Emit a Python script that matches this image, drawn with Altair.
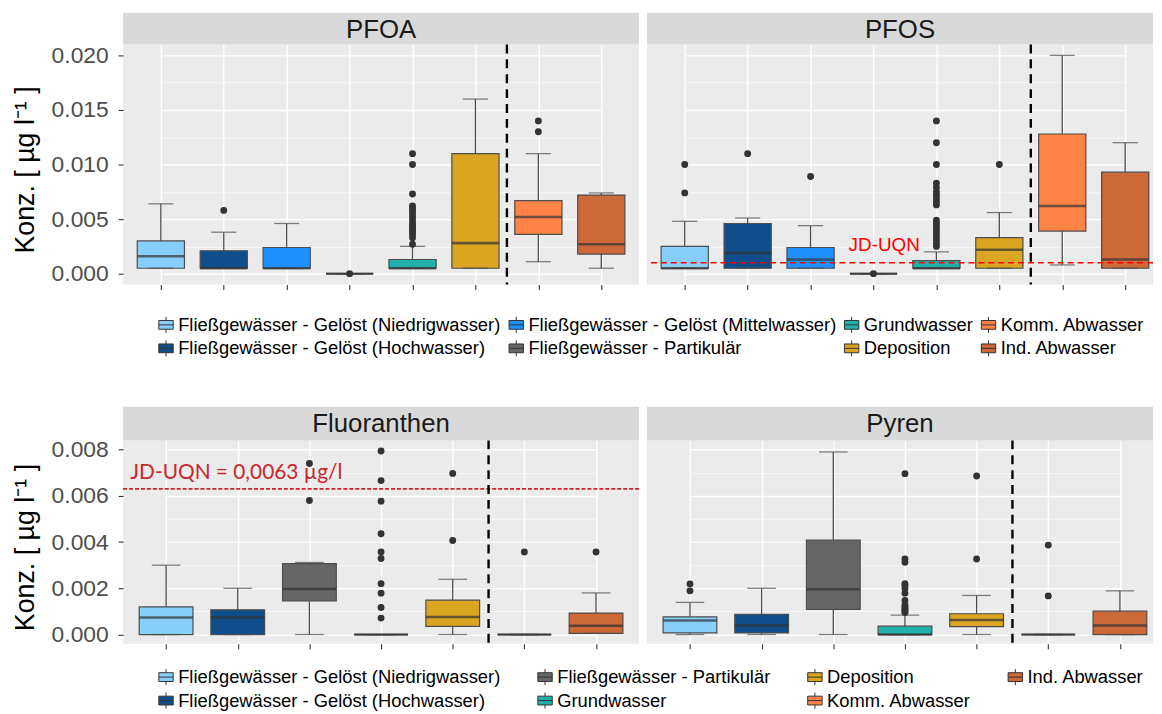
import altair as alt
import pandas as pd

# ---------------- categories ----------------
L_NIED = "Fließgewässer - Gelöst (Niedrigwasser)"
L_HOCH = "Fließgewässer - Gelöst (Hochwasser)"
L_MITT = "Fließgewässer - Gelöst (Mittelwasser)"
L_PART = "Fließgewässer - Partikulär"
L_GRUND = "Grundwasser"
L_DEP = "Deposition"
L_KOMM = "Komm. Abwasser"
L_IND = "Ind. Abwasser"

TOP_CATS = [L_NIED, L_HOCH, L_MITT, L_PART, L_GRUND, L_DEP, L_KOMM, L_IND]
BOT_CATS = [L_NIED, L_HOCH, L_PART, L_GRUND, L_DEP, L_KOMM, L_IND]

COLORS = {
    L_NIED: "#87CEFA", L_HOCH: "#104E8B", L_MITT: "#1E90FF", L_PART: "#666666",
    L_GRUND: "#20B2AA", L_DEP: "#DAA520", L_KOMM: "#FF8247", L_IND: "#CD6839",
}

# legend order as it reads row by row
TOP_LEGEND = [L_NIED, L_MITT, L_GRUND, L_KOMM, L_HOCH, L_PART, L_DEP, L_IND]
BOT_LEGEND = [L_NIED, L_PART, L_DEP, L_IND, L_HOCH, L_GRUND, L_KOMM]

# ---------------- PFOA ----------------
PFOA_LOWER = [0.0005, 0.0005, 0.0005, 0.0, 0.0005, 0.0005, 0.0011, 0.0005]
PFOA_Q1 = [0.0005, 0.0005, 0.0005, 0.0, 0.0005, 0.0005, 0.0036, 0.0018]
PFOA_MED = [0.0016, 0.0005, 0.0005, 0.0, 0.0005, 0.0028, 0.0052, 0.0027]
PFOA_Q3 = [0.0030, 0.0021, 0.0024, 0.0, 0.0013, 0.0110, 0.0067, 0.0072]
PFOA_UPPER = [0.0064, 0.0038, 0.0046, 0.0, 0.0025, 0.0160, 0.0110, 0.0074]
PFOA_OUT = {
    L_HOCH: [0.0058],
    L_PART: [0.0],
    L_GRUND: [0.0027, 0.0033, 0.0036, 0.0038, 0.0040, 0.0042, 0.0044, 0.0046,
              0.0049, 0.0052, 0.0055, 0.0058, 0.0060, 0.0062, 0.0073, 0.0100, 0.0110],
    L_KOMM: [0.0130, 0.0140],
}

# ---------------- PFOS ----------------
PFOS_LOWER = [0.0005, 0.0005, 0.0005, 0.0, 0.0005, 0.0005, 0.0008, 0.0005]
PFOS_Q1 = [0.0005, 0.0005, 0.0005, 0.0, 0.0005, 0.0005, 0.0039, 0.0005]
PFOS_MED = [0.0005, 0.0019, 0.0013, 0.0, 0.0005, 0.0022, 0.0062, 0.0013]
PFOS_Q3 = [0.0025, 0.0046, 0.0024, 0.0, 0.0012, 0.0033, 0.0128, 0.0093]
PFOS_UPPER = [0.0048, 0.0051, 0.0044, 0.0, 0.0020, 0.0056, 0.0200, 0.0120]
PFOS_OUT = {
    L_NIED: [0.0074, 0.0100],
    L_HOCH: [0.0110],
    L_MITT: [0.0089],
    L_PART: [0.0],
    L_GRUND: [0.0025, 0.0028, 0.0031, 0.0034, 0.0037, 0.0040, 0.0043, 0.0046, 0.0049,
              0.0063, 0.0066, 0.0069, 0.0072, 0.0075, 0.0079, 0.0083, 0.0100, 0.0120, 0.0140],
    L_DEP: [0.0100],
}
PFOS_JD = 0.001

# ---------------- Fluoranthen ----------------
FLU_LOWER = [0.0, 0.0, 0.0, 0.0, 0.0, 0.0, 0.00005]
FLU_Q1 = [0.0, 0.0, 0.00145, 0.0, 0.00035, 0.0, 0.00005]
FLU_MED = [0.00074, 0.00074, 0.00197, 0.0, 0.00076, 0.0, 0.00038]
FLU_Q3 = [0.0012, 0.00107, 0.00307, 0.0, 0.00149, 0.0, 0.00093]
FLU_UPPER = [0.0030, 0.0020, 0.00312, 0.0, 0.00239, 0.0, 0.0018]
FLU_OUT = {
    L_PART: [0.0058, 0.0074],
    L_GRUND: [0.00071, 0.00117, 0.00179, 0.0022, 0.00329, 0.00357, 0.00436,
              0.00577, 0.00666, 0.00794],
    L_DEP: [0.00407, 0.00697],
    L_KOMM: [0.00357],
    L_IND: [0.00357],
}
FLU_JD = 0.0063

# ---------------- Pyren ----------------
PYR_LOWER = [0.0, 0.0, 0.0, 0.0, 0.0, 0.0, 0.0]
PYR_Q1 = [0.00007, 0.00007, 0.00109, 0.0, 0.00034, 0.0, 0.0]
PYR_MED = [0.00061, 0.00039, 0.00196, 0.0, 0.00063, 0.0, 0.00039]
PYR_Q3 = [0.00076, 0.00087, 0.00409, 0.00036, 0.0009, 0.0, 0.00101]
PYR_UPPER = [0.00139, 0.0020, 0.0079, 0.00084, 0.00169, 0.0, 0.00189]
PYR_OUT = {
    L_NIED: [0.00189, 0.00219],
    L_GRUND: [0.00095, 0.00100, 0.00106, 0.00112, 0.00120, 0.00128, 0.00147, 0.00179,
              0.00199, 0.00213, 0.00220, 0.00313, 0.00327, 0.00696],
    L_DEP: [0.00327, 0.00686],
    L_KOMM: [0.00167, 0.00387],
}

# ---------------- axis ticks ----------------
TOP_TICKS = [0.0, 0.0025, 0.005, 0.0075, 0.01, 0.0125, 0.015, 0.0175, 0.02]
TOP_DOMAIN = [-0.001, 0.021]
TOP_MAJOR = "round(datum.value*20000) % 100 == 0"
BOT_TICKS = [0.0, 0.001, 0.002, 0.003, 0.004, 0.005, 0.006, 0.007, 0.008]
BOT_DOMAIN = [-0.0004, 0.0084]
BOT_MAJOR = "round(datum.value*1000) % 2 == 0"

Y_TITLE = "Konz. [ µg l⁻¹ ]"
FONT = "Liberation Sans"
BOX_SYMBOL = "M-0.9,-0.55H0.9V0.55H-0.9Z M0,-1V-0.55 M0,0.55V1 M-0.9,0H0.9"

PANEL_W_REF = 520


def panel(name, cats, lower, q1, med, q3, upper, outliers, width, height,
          ydomain, yticks, major, legend, legend_pos, col_pad, show_y, strip_h,
          thr=None, thr_label=None, thr_cat=None, thr_style=None):
    n = len(cats)
    step = PANEL_W_REF / (n + 0.2)
    box_w = 0.75 * step
    cap_w = 0.4 * step

    stats = pd.DataFrame({"cat": cats, "lower": lower, "q1": q1, "median": med,
                          "q3": q3, "upper": upper})
    pts = pd.DataFrame([(c, v) for c, vs in outliers.items() for v in vs],
                       columns=["cat", "value"])

    xenc = alt.X("cat:N", title=None,
                 scale=alt.Scale(type="point", domain=cats, padding=0,
                                 range=[0.6 * step, (n - 0.4) * step]),
                 axis=alt.Axis(labels=False, domain=False, ticks=True, tickSize=5,
                               tickColor="#333333", tickWidth=1.1, grid=True,
                               gridColor="white", gridWidth=1.4))
    yscale = alt.Scale(domain=ydomain, nice=False, zero=False)
    grid_w = {"condition": {"test": major, "value": 1.4}, "value": 0.7}
    if show_y:
        yaxis = alt.Axis(values=yticks,
                         labelExpr=f"({major}) ? format(datum.value, '.3f') : ''",
                         grid=True, gridColor="white", gridWidth=grid_w,
                         tickOpacity={"condition": {"test": major, "value": 1}, "value": 0},
                         tickColor="#333333", tickSize=5, tickWidth=1.1,
                         labelFontSize=23, labelColor="#4D4D4D", labelPadding=10,
                         labelFont=FONT, domain=False,
                         titleFontSize=27, titleColor="black", titleFontWeight="normal",
                         titleFont=FONT, titlePadding=12, titleY=height / 2 + 5)
        ytitle = Y_TITLE
    else:
        yaxis = alt.Axis(values=yticks, labels=False, ticks=False, domain=False,
                         grid=True, gridColor="white", gridWidth=grid_w)
        ytitle = None

    def Y(field):
        return alt.Y(f"{field}:Q", scale=yscale, axis=yaxis, title=ytitle)

    strip_df = pd.DataFrame({"panel": [name]})
    strip = alt.Chart(strip_df).mark_rect(fill="#D9D9D9").encode(
        x=alt.value(0), x2=alt.value(width),
        y=alt.value(-strip_h), y2=alt.value(0))
    strip_txt = alt.Chart(strip_df).mark_text(
        fontSize=26, font=FONT, color="#1A1A1A", baseline="middle").encode(
        x=alt.value(width / 2), y=alt.value(-strip_h / 2 + 1), text="panel:N")

    whisk = alt.Chart(stats).mark_rule(color="#4D4D4D", strokeWidth=1.3).encode(
        x=xenc, y=Y("lower"), y2="upper:Q")
    box = alt.Chart(stats).mark_bar(size=box_w, stroke="#4D4D4D", strokeWidth=1.2,
                                    opacity=1).encode(
        x=xenc, y=Y("q1"), y2="q3:Q",
        color=alt.Color("cat:N", scale=alt.Scale(domain=legend,
                                                 range=[COLORS[c] for c in legend]),
                        legend=alt.Legend(
                            title=None, orient="none", direction="horizontal",
                            legendX=legend_pos[0], legendY=legend_pos[1],
                            columns=4, symbolType=BOX_SYMBOL, symbolSize=260,
                            symbolStrokeColor="#333333", symbolStrokeWidth=1,
                            labelFontSize=18.5, labelFont=FONT, labelColor="black",
                            labelLimit=600, labelOffset=3,
                            columnPadding=col_pad, rowPadding=3)))
    cap_lo = alt.Chart(stats).mark_tick(size=cap_w, thickness=1.3,
                                        color="#4D4D4D").encode(x=xenc, y=Y("lower"))
    cap_hi = alt.Chart(stats).mark_tick(size=cap_w, thickness=1.3,
                                        color="#4D4D4D").encode(x=xenc, y=Y("upper"))
    median = alt.Chart(stats).mark_tick(size=box_w, thickness=2.6,
                                        color="#333333").encode(x=xenc, y=Y("median"))
    dots = alt.Chart(pts).mark_circle(size=48, color="#333333", opacity=1).encode(
        x=xenc, y=Y("value"))
    sep = alt.Chart(pd.DataFrame({"cat": [L_KOMM]})).mark_rule(
        xOffset=-step / 2, strokeDash=[9, 6], strokeWidth=2.4, color="black").encode(x=xenc)

    layers = [strip, strip_txt, whisk, box, cap_lo, cap_hi, median, dots]
    if thr is not None:
        st = thr_style
        thr_df = pd.DataFrame({"thr": [thr], "cat": [thr_cat], "label": [thr_label]})
        layers.append(alt.Chart(thr_df).mark_rule(
            color=st["color"], strokeDash=st["dash"], strokeWidth=st["width"]).encode(
            y=Y("thr")))
        layers.append(alt.Chart(thr_df).mark_text(
            color=st["color"], font=st["font"], fontSize=st["size"], align=st["align"],
            baseline="bottom", xOffset=st["dx"] * step, yOffset=st["dy"]).encode(
            x=xenc, y=Y("thr"), text="label:N"))
    layers.append(sep)
    return alt.layer(*layers).properties(width=width, height=height)


TOP_H = 242
BOT_H = 205
TOP_LEG = (34, 273)
BOT_LEG = (34, 229)

pfoa = panel("PFOA", TOP_CATS, PFOA_LOWER, PFOA_Q1, PFOA_MED, PFOA_Q3, PFOA_UPPER, PFOA_OUT,
             520, TOP_H, TOP_DOMAIN, TOP_TICKS, TOP_MAJOR, TOP_LEGEND, TOP_LEG, 5, True, 32)
pfos = panel("PFOS", TOP_CATS, PFOS_LOWER, PFOS_Q1, PFOS_MED, PFOS_Q3, PFOS_UPPER, PFOS_OUT,
             510, TOP_H, TOP_DOMAIN, TOP_TICKS, TOP_MAJOR, TOP_LEGEND, TOP_LEG, 5, False, 32,
             thr=PFOS_JD, thr_label="JD-UQN", thr_cat=L_PART,
             thr_style={"color": "#FF0000", "dash": [6, 4], "width": 1.6, "font": FONT,
                        "size": 19, "align": "center", "dx": 0.17, "dy": -8})
flu = panel("Fluoranthen", BOT_CATS, FLU_LOWER, FLU_Q1, FLU_MED, FLU_Q3, FLU_UPPER, FLU_OUT,
            520, BOT_H, BOT_DOMAIN, BOT_TICKS, BOT_MAJOR, BOT_LEGEND, BOT_LEG, 34, True, 34,
            thr=FLU_JD, thr_label="JD-UQN = 0,0063 µg/l", thr_cat=L_NIED,
            thr_style={"color": "#C8262C", "dash": [4, 2], "width": 1.6, "font": "Lato",
                       "size": 21, "align": "left", "dx": -0.5, "dy": -6})
pyr = panel("Pyren", BOT_CATS, PYR_LOWER, PYR_Q1, PYR_MED, PYR_Q3, PYR_UPPER, PYR_OUT,
            510, BOT_H, BOT_DOMAIN, BOT_TICKS, BOT_MAJOR, BOT_LEGEND, BOT_LEG, 34, False, 34)

top = alt.hconcat(pfoa, pfos, spacing=7)
bottom = alt.hconcat(flu, pyr, spacing=7)

chart = alt.vconcat(top, bottom, spacing=48).resolve_scale(color="independent").properties(
    padding={"left": 3, "top": 2, "right": 0, "bottom": 0}, background="white"
).configure_view(fill="#EBEBEB", strokeWidth=0)

chart.save("out.html", embed_options={"renderer": "svg", "actions": False})
